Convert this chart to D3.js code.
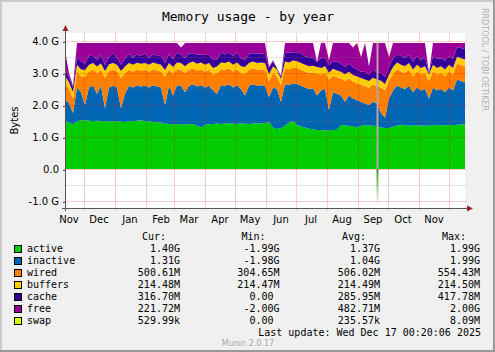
<!DOCTYPE html>
<meta charset="utf-8">
<style>
body { margin: 0; background: #f0f0f0; }
svg { display: block; }
.grid-minor line { stroke: rgba(128,128,128,0.22); shape-rendering: crispEdges; }
.grid-major line { stroke: rgba(255,0,0,0.2); shape-rendering: crispEdges; }
.axis text { font-family: "DejaVu Sans", sans-serif; font-size: 10px; fill: #000; }
.axis line { stroke: #555; shape-rendering: crispEdges; }
.axis path { display: none; }
.mono { font-family: "DejaVu Sans Mono", monospace; font-size: 10px; fill: #000; }
</style>
<body>
<script src="https://d3js.org/d3.v7.min.js"></script>
<script>

// values in G (stacked memory), one sample every 4 days from 2024-11-12
var active = [1.46,1.45,1.40,1.49,1.52,1.53,1.51,1.50,1.51,1.49,
  1.50,1.48,1.49,1.50,1.48,1.47,1.49,1.50,1.51,1.52,
  1.50,1.49,1.47,1.46,1.45,1.42,1.41,1.40,1.41,1.40,
  1.39,1.40,1.41,1.36,1.30,1.38,1.40,1.41,1.42,1.41,
  1.42,1.44,1.42,1.41,1.43,1.42,1.41,1.42,1.43,1.42,
  1.44,1.47,1.30,1.25,1.28,1.35,1.45,1.50,1.38,1.33,
  1.30,1.26,1.24,1.22,1.22,1.20,1.21,1.22,1.23,1.38,
  1.36,1.34,1.33,1.30,1.35,1.37,1.36,1.35,1.34,1.30,
  1.28,1.28,1.32,1.36,1.38,1.37,1.35,1.36,1.37,1.36,
  1.35,1.36,1.37,1.38,1.36,1.37,1.38,1.37,1.38,1.39,
  1.40];
var inactive = [0.74,0.60,0.35,1.06,0.88,0.47,1.04,1.10,0.84,1.11,
  0.40,1.07,1.11,1.05,0.42,0.88,1.11,1.05,1.11,1.06,
  1.10,1.06,1.15,1.12,1.10,0.58,1.19,0.90,1.21,1.20,
  1.01,1.20,1.24,1.22,1.32,1.17,1.20,1.04,0.93,1.21,
  1.18,1.21,1.13,1.21,1.07,0.88,1.19,1.23,1.17,1.20,
  1.16,0.78,1.25,1.25,0.82,1.30,1.17,1.18,1.28,1.27,
  1.25,1.24,1.28,1.08,1.23,1.30,0.64,1.18,1.12,0.92,
  0.74,0.96,0.87,0.85,0.75,0.68,0.64,0.75,0.71,0.45,
  0.32,0.92,1.13,1.24,1.17,1.13,1.25,1.04,1.18,1.09,
  1.15,0.84,1.18,1.07,1.14,1.03,1.17,1.08,1.42,1.36,
  1.31];
var wired = [0.50,0.45,0.45,0.50,0.50,0.88,0.50,0.50,0.64,0.49,
  0.95,0.51,0.50,0.50,0.95,0.64,0.50,0.50,0.49,0.50,
  0.50,0.50,0.50,0.50,0.50,0.88,0.50,0.68,0.50,0.50,
  0.60,0.50,0.50,0.50,0.50,0.50,0.50,0.50,0.64,0.50,
  0.50,0.50,0.50,0.50,0.50,0.68,0.50,0.50,0.50,0.50,
  0.50,0.50,0.45,0.40,0.50,0.50,0.50,0.50,0.50,0.50,
  0.50,0.50,0.50,0.68,0.50,0.50,0.95,0.52,0.52,0.53,
  0.65,0.53,0.53,0.53,0.53,0.54,0.54,0.54,0.54,0.80,
  0.85,0.54,0.53,0.52,0.50,0.50,0.50,0.50,0.50,0.50,
  0.50,0.55,0.50,0.50,0.50,0.50,0.50,0.50,0.50,0.50,
  0.50];
var buffers = [0.21,0.21,0.21,0.21,0.21,0.21,0.21,0.21,0.21,0.21,
  0.21,0.21,0.21,0.21,0.21,0.21,0.21,0.21,0.21,0.21,
  0.21,0.21,0.21,0.21,0.21,0.21,0.21,0.21,0.21,0.21,
  0.21,0.21,0.21,0.21,0.21,0.21,0.21,0.21,0.21,0.21,
  0.21,0.21,0.21,0.21,0.21,0.21,0.21,0.21,0.21,0.21,
  0.21,0.21,0.21,0.21,0.21,0.21,0.21,0.21,0.21,0.21,
  0.21,0.21,0.21,0.21,0.21,0.21,0.21,0.21,0.21,0.21,
  0.21,0.21,0.21,0.21,0.21,0.21,0.21,0.21,0.21,0.21,
  0.21,0.21,0.21,0.21,0.21,0.21,0.21,0.21,0.21,0.21,
  0.21,0.21,0.21,0.21,0.21,0.21,0.21,0.21,0.21,0.21,
  0.21];
var cache = [0.22,0.15,0.15,0.22,0.25,0.20,0.28,0.22,0.20,0.26,
  0.18,0.24,0.30,0.22,0.20,0.25,0.28,0.22,0.26,0.24,
  0.30,0.22,0.26,0.24,0.28,0.22,0.28,0.24,0.30,0.27,
  0.25,0.30,0.26,0.28,0.25,0.30,0.26,0.24,0.22,0.30,
  0.27,0.28,0.26,0.30,0.25,0.22,0.28,0.26,0.30,0.27,
  0.28,0.20,0.15,0.04,0.09,0.28,0.30,0.26,0.28,0.30,
  0.26,0.28,0.25,0.15,0.30,0.26,0.25,0.24,0.28,0.25,
  0.22,0.26,0.24,0.22,0.20,0.24,0.20,0.25,0.22,0.24,
  0.22,0.24,0.26,0.24,0.28,0.25,0.26,0.24,0.28,0.25,
  0.27,0.04,0.26,0.28,0.25,0.27,0.26,0.28,0.30,0.32,
  0.32];
var free = [0.57,0.14,0.04,0.46,0.58,0.65,0.40,0.41,0.54,0.38,
  0.70,0.43,0.33,0.46,0.68,0.49,0.35,0.46,0.36,0.41,
  0.33,0.46,0.35,0.41,0.40,0.63,0.35,0.51,0.31,0.22,
  0.48,0.33,0.32,0.37,0.36,0.38,0.37,0.54,0.52,0.31,
  0.36,0.30,0.42,0.31,0.48,0.53,0.35,0.32,0.33,0.34,
  0.35,0.04,0.04,0.00,0.00,0.30,0.31,0.29,0.29,0.33,
  0.42,0.45,0.46,0.00,0.48,0.47,0.14,0.57,0.58,0.65,
  0.76,0.64,0.62,0.83,0.46,0.90,0.25,0.84,0.92,0.94,
  1.06,0.31,0.49,0.37,0.40,0.48,0.37,0.59,0.40,0.53,
  0.46,0.00,0.42,0.50,0.48,0.56,0.42,0.50,0.13,0.16,
  0.20];
var swap = [0.0002,0.0001,0.0000,0.0002,0.0002,0.0003,0.0002,0.0002,0.0002,0.0003,
  0.0002,0.0002,0.0003,0.0002,0.0002,0.0002,0.0003,0.0002,0.0002,0.0002,
  0.0003,0.0002,0.0002,0.0002,0.0003,0.0002,0.0002,0.0002,0.0002,0.0003,
  0.0002,0.0002,0.0002,0.0003,0.0002,0.0002,0.0002,0.0002,0.0003,0.0002,
  0.0002,0.0002,0.0003,0.0002,0.0002,0.0002,0.0002,0.0003,0.0002,0.0002,
  0.0002,0.0000,0.0002,0.0002,0.0000,0.0002,0.0003,0.0002,0.0002,0.0002,
  0.0002,0.0002,0.0003,0.0000,0.0002,0.0002,0.0002,0.0003,0.0002,0.0002,
  0.0003,0.0002,0.0002,0.0002,0.0003,0.0002,0.0000,0.0002,0.0079,0.0004,
  0.0003,0.0002,0.0002,0.0003,0.0002,0.0002,0.0002,0.0003,0.0002,0.0002,
  0.0002,0.0000,0.0003,0.0002,0.0002,0.0003,0.0003,0.0004,0.0005,0.0005,
  0.0005];

// the short glitch in September (active drops below zero)
var glitchDate = new Date(2025, 8, 20, 12, 0);
var glitchHigh = 3.94;
var glitchLow = -1.15;

var startDate = new Date(2024, 10, 12, 0, 20, 6);
var endDate = new Date(2025, 11, 17, 0, 20, 6);
var stepDays = 4;

var monthNames = ["Nov","Dec","Jan","Feb","Mar","Apr","May","Jun","Jul","Aug","Sep","Oct","Nov"];
var yTickValues = [-1, 0, 1, 2, 3, 4];
var yTickLabels = ["-1.0 G","0.0","1.0 G","2.0 G","3.0 G","4.0 G"];

var keys = ["active","inactive","wired","buffers","cache","free","swap"];
var colors = ["#00cc00","#0066b3","#ff8000","#ffcc00","#330099","#990099","#ccff00"];

var legendCur = ["1.40G","1.31G","500.61M","214.48M","316.70M","221.72M","529.99k"];
var legendMin = ["-1.99G","-1.98G","304.65M","214.47M","0.00","-2.00G","0.00"];
var legendAvg = ["1.37G","1.04G","506.02M","214.49M","285.95M","482.71M","235.57k"];
var legendMax = ["1.99G","1.99G","554.43M","214.50M","417.78M","2.00G","8.09M"];

// set the dimensions of the image and the plot area
var W = 495, H = 352;
var plot = {left: 65, right: 465, top: 33, bottom: 208};

var x = d3.scaleTime().domain([startDate, endDate]).range([plot.left, plot.right]);
var y = d3.scaleLinear().domain([-1.21875, 4.25]).range([plot.bottom, plot.top]);

var svg = d3.select("body").append("svg")
    .attr("width", W)
    .attr("height", H);

// background and 3d frame
svg.append("rect").attr("width", W).attr("height", H).attr("fill", "#f0f0f0");
svg.append("rect").attr("x", 0).attr("y", 0).attr("width", W).attr("height", 2).attr("fill", "#cbcbcb");
svg.append("rect").attr("x", 0).attr("y", 0).attr("width", 2).attr("height", H).attr("fill", "#cbcbcb");
svg.append("rect").attr("x", 0).attr("y", H - 2).attr("width", W).attr("height", 2).attr("fill", "#999999");
svg.append("rect").attr("x", W - 2).attr("y", 0).attr("width", 2).attr("height", H).attr("fill", "#999999");

svg.append("rect")
    .attr("x", plot.left).attr("y", plot.top)
    .attr("width", plot.right - plot.left).attr("height", plot.bottom - plot.top)
    .attr("fill", "#ffffff");

// title
svg.append("text")
    .attr("class", "mono")
    .attr("x", 248).attr("y", 20.5)
    .attr("text-anchor", "middle")
    .style("font-size", "13px")
    .text("Memory usage - by year");

// build the table and stack it
var table = active.map(function(v, i) {
  return {
    date: d3.timeDay.offset(startDate, i * stepDays),
    active: v, inactive: inactive[i], wired: wired[i], buffers: buffers[i],
    cache: cache[i], free: free[i], swap: swap[i]
  };
});
var series = d3.stack().keys(keys)(table);

var area = d3.area()
    .x(function(d) { return x(d.data.date); })
    .y0(function(d) { return y(d[0]); })
    .y1(function(d) { return y(d[1]); });

svg.append("g").selectAll("path")
    .data(series)
    .join("path")
    .attr("fill", function(d, i) { return colors[i]; })
    .attr("d", area);

// glitch column
var grad = svg.append("defs").append("linearGradient")
    .attr("id", "glitch")
    .attr("gradientUnits", "userSpaceOnUse")
    .attr("x1", 0).attr("x2", 0)
    .attr("y1", y(0)).attr("y2", y(glitchLow));
grad.append("stop").attr("offset", 0).attr("stop-color", "#3f9a25");
grad.append("stop").attr("offset", 1).attr("stop-color", "#ffffff");

svg.append("line")
    .attr("x1", x(glitchDate)).attr("x2", x(glitchDate))
    .attr("y1", y(glitchHigh)).attr("y2", y(0))
    .attr("stroke", "#b8a4ac").attr("stroke-width", 2);
svg.append("rect")
    .attr("x", x(glitchDate) - 1).attr("width", 2)
    .attr("y", y(0)).attr("height", y(glitchLow) - y(0))
    .attr("fill", "url(#glitch)");

// minor horizontal gridlines every 0.5 G
svg.append("g").attr("class", "grid-minor")
  .selectAll("line")
    .data(d3.range(-1, 4.01, 0.5).filter(function(v) { return v % 1 !== 0; }))
    .join("line")
    .attr("x1", plot.left - 2).attr("x2", plot.right + 2)
    .attr("y1", function(d) { return Math.round(y(d)) + 0.5; })
    .attr("y2", function(d) { return Math.round(y(d)) + 0.5; });

// major gridlines
svg.append("g").attr("class", "grid-major")
  .selectAll("line")
    .data(yTickValues)
    .join("line")
    .attr("x1", plot.left - 2).attr("x2", plot.right + 2)
    .attr("y1", function(d) { return Math.round(y(d)) + 0.5; })
    .attr("y2", function(d) { return Math.round(y(d)) + 0.5; });

var monthStarts = d3.timeMonth.range(new Date(2024, 11, 1), endDate);
svg.append("g").attr("class", "grid-major")
  .selectAll("line")
    .data(monthStarts)
    .join("line")
    .attr("x1", function(d) { return Math.round(x(d)) + 0.5; })
    .attr("x2", function(d) { return Math.round(x(d)) + 0.5; })
    .attr("y1", plot.top).attr("y2", plot.bottom + 3);

// y axis labels
svg.append("g")
    .attr("class", "axis")
    .attr("transform", "translate(" + (plot.left + 0.5) + ",0.5)")
    .call(d3.axisLeft(y)
      .tickValues(yTickValues)
      .tickSize(3)
      .tickPadding(3.5)
      .tickFormat(function(d, i) { return yTickLabels[i]; }));

// x axis labels, centred in the middle of each month
var labelMonths = d3.timeMonth.range(new Date(2024, 10, 1), new Date(2025, 11, 1));
svg.append("g")
    .attr("class", "axis")
    .selectAll("text")
    .data(labelMonths)
    .join("text")
    .attr("x", function(d) { return x(d3.timeDay.offset(d, 15)); })
    .attr("y", 222.5)
    .attr("text-anchor", "middle")
    .text(function(d, i) { return monthNames[i]; });

// axis lines and arrows
svg.append("line")
    .attr("x1", plot.left - 3).attr("x2", plot.right + 5)
    .attr("y1", plot.bottom + 0.5).attr("y2", plot.bottom + 0.5)
    .attr("stroke", "#555");
svg.append("line")
    .attr("x1", plot.left + 0.5).attr("x2", plot.left + 0.5)
    .attr("y1", plot.bottom + 3).attr("y2", plot.top - 3)
    .attr("stroke", "#555");
svg.append("path")
    .attr("d", "M" + (plot.right + 2) + "," + (plot.bottom - 2.5) + "L" + (plot.right + 8) + "," + (plot.bottom + 0.5) +
               "L" + (plot.right + 2) + "," + (plot.bottom + 3.5) + "Z")
    .attr("fill", "#9b2020");
svg.append("path")
    .attr("d", "M" + (plot.left - 2.5) + "," + (plot.top - 2) + "L" + (plot.left + 0.5) + "," + (plot.top - 8) +
               "L" + (plot.left + 3.5) + "," + (plot.top - 2) + "Z")
    .attr("fill", "#9b2020");

// vertical axis title
svg.append("text")
    .attr("class", "axis")
    .attr("transform", "translate(18," + ((plot.top + plot.bottom) / 2) + ") rotate(-90)")
    .attr("text-anchor", "middle")
    .style("font-family", "'DejaVu Sans', sans-serif")
    .style("font-size", "10px")
    .text("Bytes");

// watermark
svg.append("text")
    .attr("transform", "translate(482,8) rotate(90)")
    .style("font-family", "'DejaVu Sans', sans-serif")
    .style("font-size", "8px")
    .attr("fill", "#b0b0b0")
    .text("RRDTOOL / TOBI OETIKER");

// legend
var colRight = [180, 279.5, 380, 480];
var headers = ["Cur:", "Min:", "Avg:", "Max:"];
svg.append("g").selectAll("text")
    .data(headers)
    .join("text")
    .attr("class", "mono")
    .attr("x", function(d, i) { return colRight[i] - 14; })
    .attr("y", 240)
    .attr("text-anchor", "end")
    .text(function(d) { return d; });

var cols = [legendCur, legendMin, legendAvg, legendMax];
keys.forEach(function(k, r) {
  var by = 252 + r * 12;
  svg.append("rect")
      .attr("x", 14.5).attr("y", by - 6.5)
      .attr("width", 7).attr("height", 7)
      .attr("fill", colors[r])
      .attr("stroke", "#000").attr("stroke-width", 1);
  svg.append("text")
      .attr("class", "mono")
      .attr("x", 27).attr("y", by)
      .text(k);
  cols.forEach(function(col, c) {
    var s = col[r];
    var shift = /[0-9]$/.test(s) ? 6 : 0;
    svg.append("text")
        .attr("class", "mono")
        .attr("x", colRight[c] - shift).attr("y", by)
        .attr("text-anchor", "end")
        .text(s);
  });
});

svg.append("text")
    .attr("class", "mono")
    .attr("x", 481).attr("y", 336)
    .attr("text-anchor", "end")
    .text("Last update: Wed Dec 17 00:20:06 2025");

svg.append("text")
    .attr("x", 248).attr("y", 346)
    .attr("text-anchor", "middle")
    .style("font-family", "'DejaVu Sans', sans-serif")
    .style("font-size", "8px")
    .attr("fill", "#a8a8a8")
    .text("Munin 2.0.17");

</script>
</body>
